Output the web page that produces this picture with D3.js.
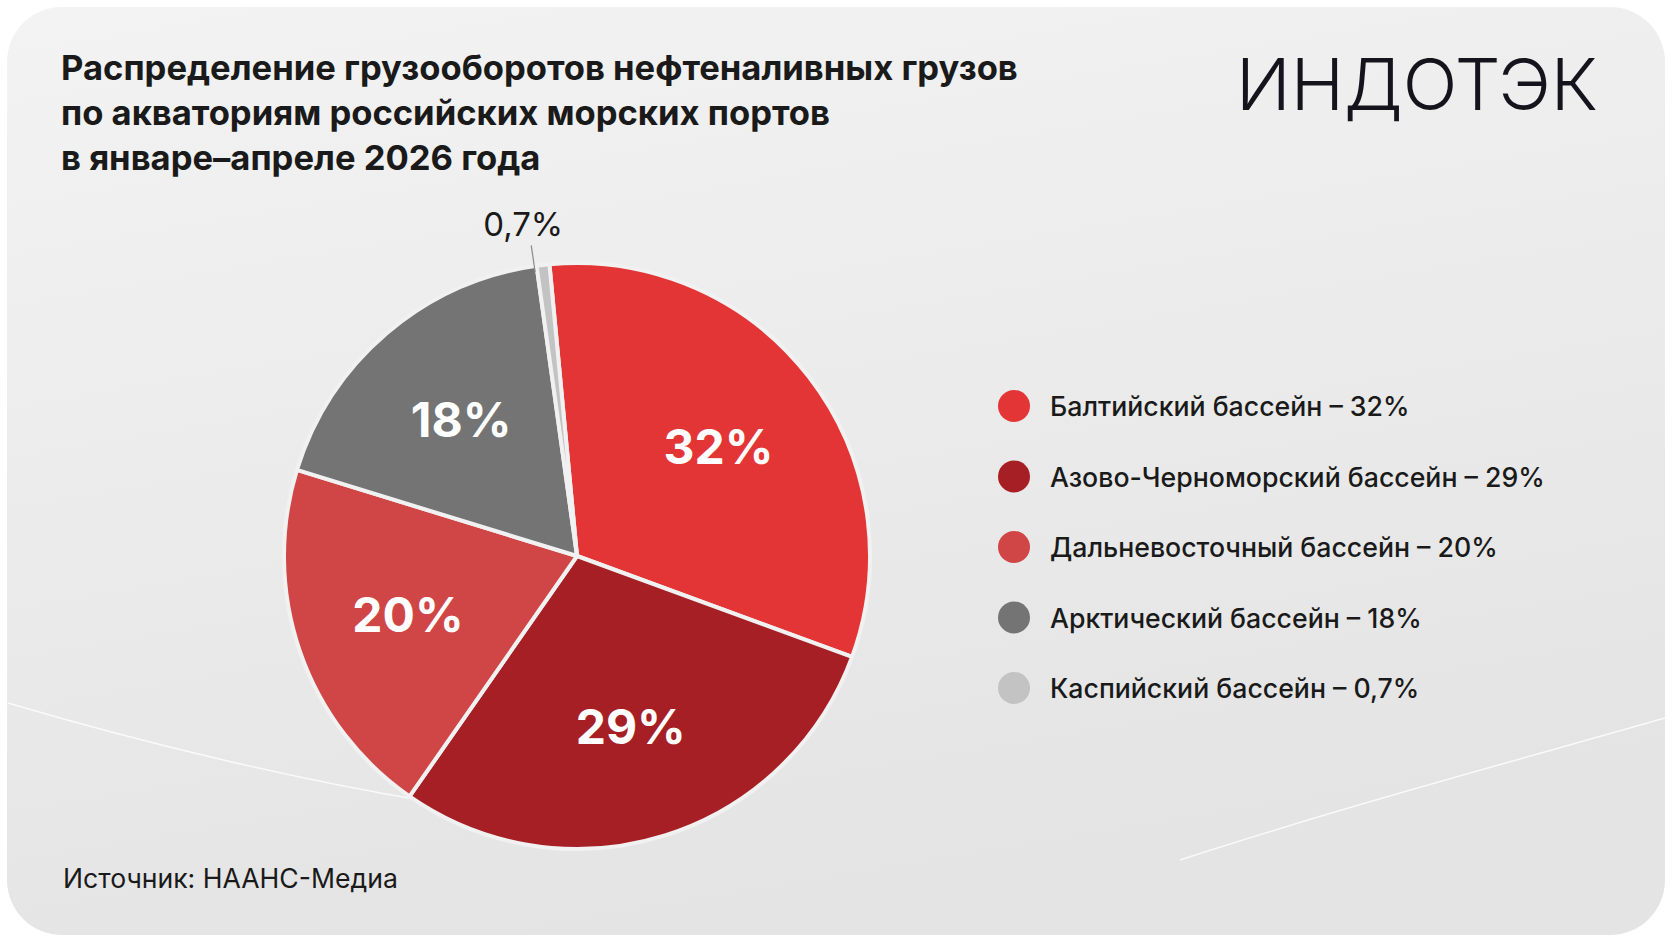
<!DOCTYPE html>
<html>
<head>
<meta charset="utf-8">
<script src="https://cdn.jsdelivr.net/npm/d3@7"></script>
<style>
  body { margin: 0; background: #ffffff; }
  svg { display: block; }
</style>
</head>
<body>
<div id="chart"></div>
<script>
// Data
const categories = ['Балтийский бассейн', 'Азово-Черноморский бассейн', 'Дальневосточный бассейн', 'Арктический бассейн', 'Каспийский бассейн'];
const shares = [32, 29, 20, 18, 0.7];
const shareLabels = ['32%', '29%', '20%', '18%', '0,7%'];
const sliceColors = ['#e43536', '#a61f24', '#d04646', '#747474', '#c3c3c3'];
const titleLines = [
  'Распределение грузооборотов нефтеналивных грузов',
  'по акваториям российских морских портов',
  'в январе–апреле 2026 года'
];
const sourceText = 'Источник: НААНС-Медиа';
const logoText = 'ИНДОТЭК';

const width = 1672, height = 941;
const font = 'Inter, "Noto Sans", sans-serif';

const svg = d3.select('#chart')
  .append('svg')
  .attr('width', width)
  .attr('height', height);

// background card
const defs = svg.append('defs');
const grad = defs.append('linearGradient')
  .attr('id', 'bg')
  .attr('x1', 0).attr('y1', 0).attr('x2', 0.3).attr('y2', 1);
grad.append('stop').attr('offset', 0).attr('stop-color', '#f3f3f3');
grad.append('stop').attr('offset', 1).attr('stop-color', '#e4e4e4');

svg.append('rect')
  .attr('x', 7).attr('y', 7)
  .attr('width', 1658).attr('height', 928)
  .attr('rx', 55)
  .attr('fill', 'url(#bg)');

// faint white swooshes in the background
svg.append('path')
  .attr('d', 'M8,703 C150,745 300,780 420,800')
  .attr('fill', 'none').attr('stroke', '#ffffff').attr('stroke-width', 1.5).attr('opacity', 0.8);
svg.append('path')
  .attr('d', 'M1665,718 C1500,765 1350,805 1180,860')
  .attr('fill', 'none').attr('stroke', '#ffffff').attr('stroke-width', 1.5).attr('opacity', 0.8);

// fits a text element to a wanted width by changing its font size
function fitWidth(sel, w) {
  const cur = sel.node().getComputedTextLength();
  const fs = parseFloat(sel.attr('font-size'));
  const nfs = fs * w / cur;
  sel.attr('font-size', nfs);
  return nfs;
}

// title
const title = svg.append('g').attr('transform', 'translate(61,80)');
const t0 = title.append('text')
  .attr('font-family', font).attr('font-weight', 700).attr('font-size', 34)
  .attr('fill', '#1a1a1a')
  .text(titleLines[0]);
const titleSize = fitWidth(t0, 957);
titleLines.slice(1).forEach((line, i) => {
  title.append('text')
    .attr('y', (i + 1) * 45)
    .attr('font-family', font).attr('font-weight', 700).attr('font-size', titleSize)
    .attr('fill', '#1a1a1a')
    .text(line);
});

// logo
const logo = svg.append('text')
  .attr('x', 1236).attr('y', 110)
  .attr('font-family', font).attr('font-weight', 300).attr('font-size', 76)
  .attr('fill', '#15131c')
  .text(logoText);
fitWidth(logo, 362);

// pie
const cx = 577, cy = 556, radius = 293;
const startAngle = -5.4 * Math.PI / 180;

const pie = d3.pie()
  .sort(null)
  .value(d => d)
  .startAngle(startAngle)
  .endAngle(startAngle + 2 * Math.PI);

const arc = d3.arc().innerRadius(0).outerRadius(radius);
const labelArc = d3.arc().innerRadius(radius * 0.61).outerRadius(radius * 0.61);

const arcs = pie(shares);
const pieG = svg.append('g').attr('transform', `translate(${cx},${cy})`);

pieG.selectAll('path')
  .data(arcs)
  .enter()
  .append('path')
  .attr('d', arc)
  .attr('fill', (d, i) => sliceColors[i])
  .attr('stroke', '#f1f1f1')
  .attr('stroke-width', 4)
  .attr('stroke-linejoin', 'round');

pieG.selectAll('text.inner')
  .data(arcs.filter(d => d.value >= 5))
  .enter()
  .append('text')
  .attr('class', 'inner')
  .attr('transform', d => `translate(${labelArc.centroid(d)})`)
  .attr('text-anchor', 'middle')
  .attr('dy', '0.36em')
  .attr('font-family', font).attr('font-weight', 700).attr('font-size', 48)
  .attr('fill', '#ffffff')
  .text(d => shareLabels[d.index]);

// small slice: leader line and outside label
arcs.filter(d => d.value < 5).forEach(d => {
  const a = (d.startAngle + d.endAngle) / 2 - 0.03;
  const p1 = [Math.sin(a) * (radius - 6), -Math.cos(a) * (radius - 6)];
  const p2 = [Math.sin(a) * (radius + 21), -Math.cos(a) * (radius + 21)];
  pieG.append('line')
    .attr('x1', p1[0]).attr('y1', p1[1])
    .attr('x2', p2[0]).attr('y2', p2[1])
    .attr('stroke', '#8a8a8a').attr('stroke-width', 1.2);
  pieG.append('text')
    .attr('x', p2[0] - 8).attr('y', p2[1] - 9)
    .attr('text-anchor', 'middle')
    .attr('font-family', font).attr('font-weight', 400).attr('font-size', 33)
    .attr('fill', '#1a1a1a')
    .text(shareLabels[d.index]);
});

// legend
const legendY = d3.scalePoint()
  .domain(d3.range(categories.length))
  .range([406, 688]);

const legend = svg.append('g');
const rows = legend.selectAll('g')
  .data(categories)
  .enter()
  .append('g')
  .attr('transform', (d, i) => `translate(1014,${legendY(i)})`);

rows.append('circle')
  .attr('r', 16)
  .attr('fill', (d, i) => sliceColors[i]);

const legendTexts = rows.append('text')
  .attr('x', 36).attr('y', 10)
  .attr('font-family', font).attr('font-weight', 500).attr('font-size', 28)
  .attr('fill', '#1a1a1a')
  .text((d, i) => `${d} – ${shareLabels[i]}`);

const legendSize = fitWidth(d3.select(legendTexts.nodes()[1]), 495);
legendTexts.attr('font-size', legendSize);

// source
const src = svg.append('text')
  .attr('x', 63).attr('y', 888)
  .attr('font-family', font).attr('font-weight', 400).attr('font-size', 27)
  .attr('fill', '#1a1a1a')
  .text(sourceText);
fitWidth(src, 335);
</script>
</body>
</html>
